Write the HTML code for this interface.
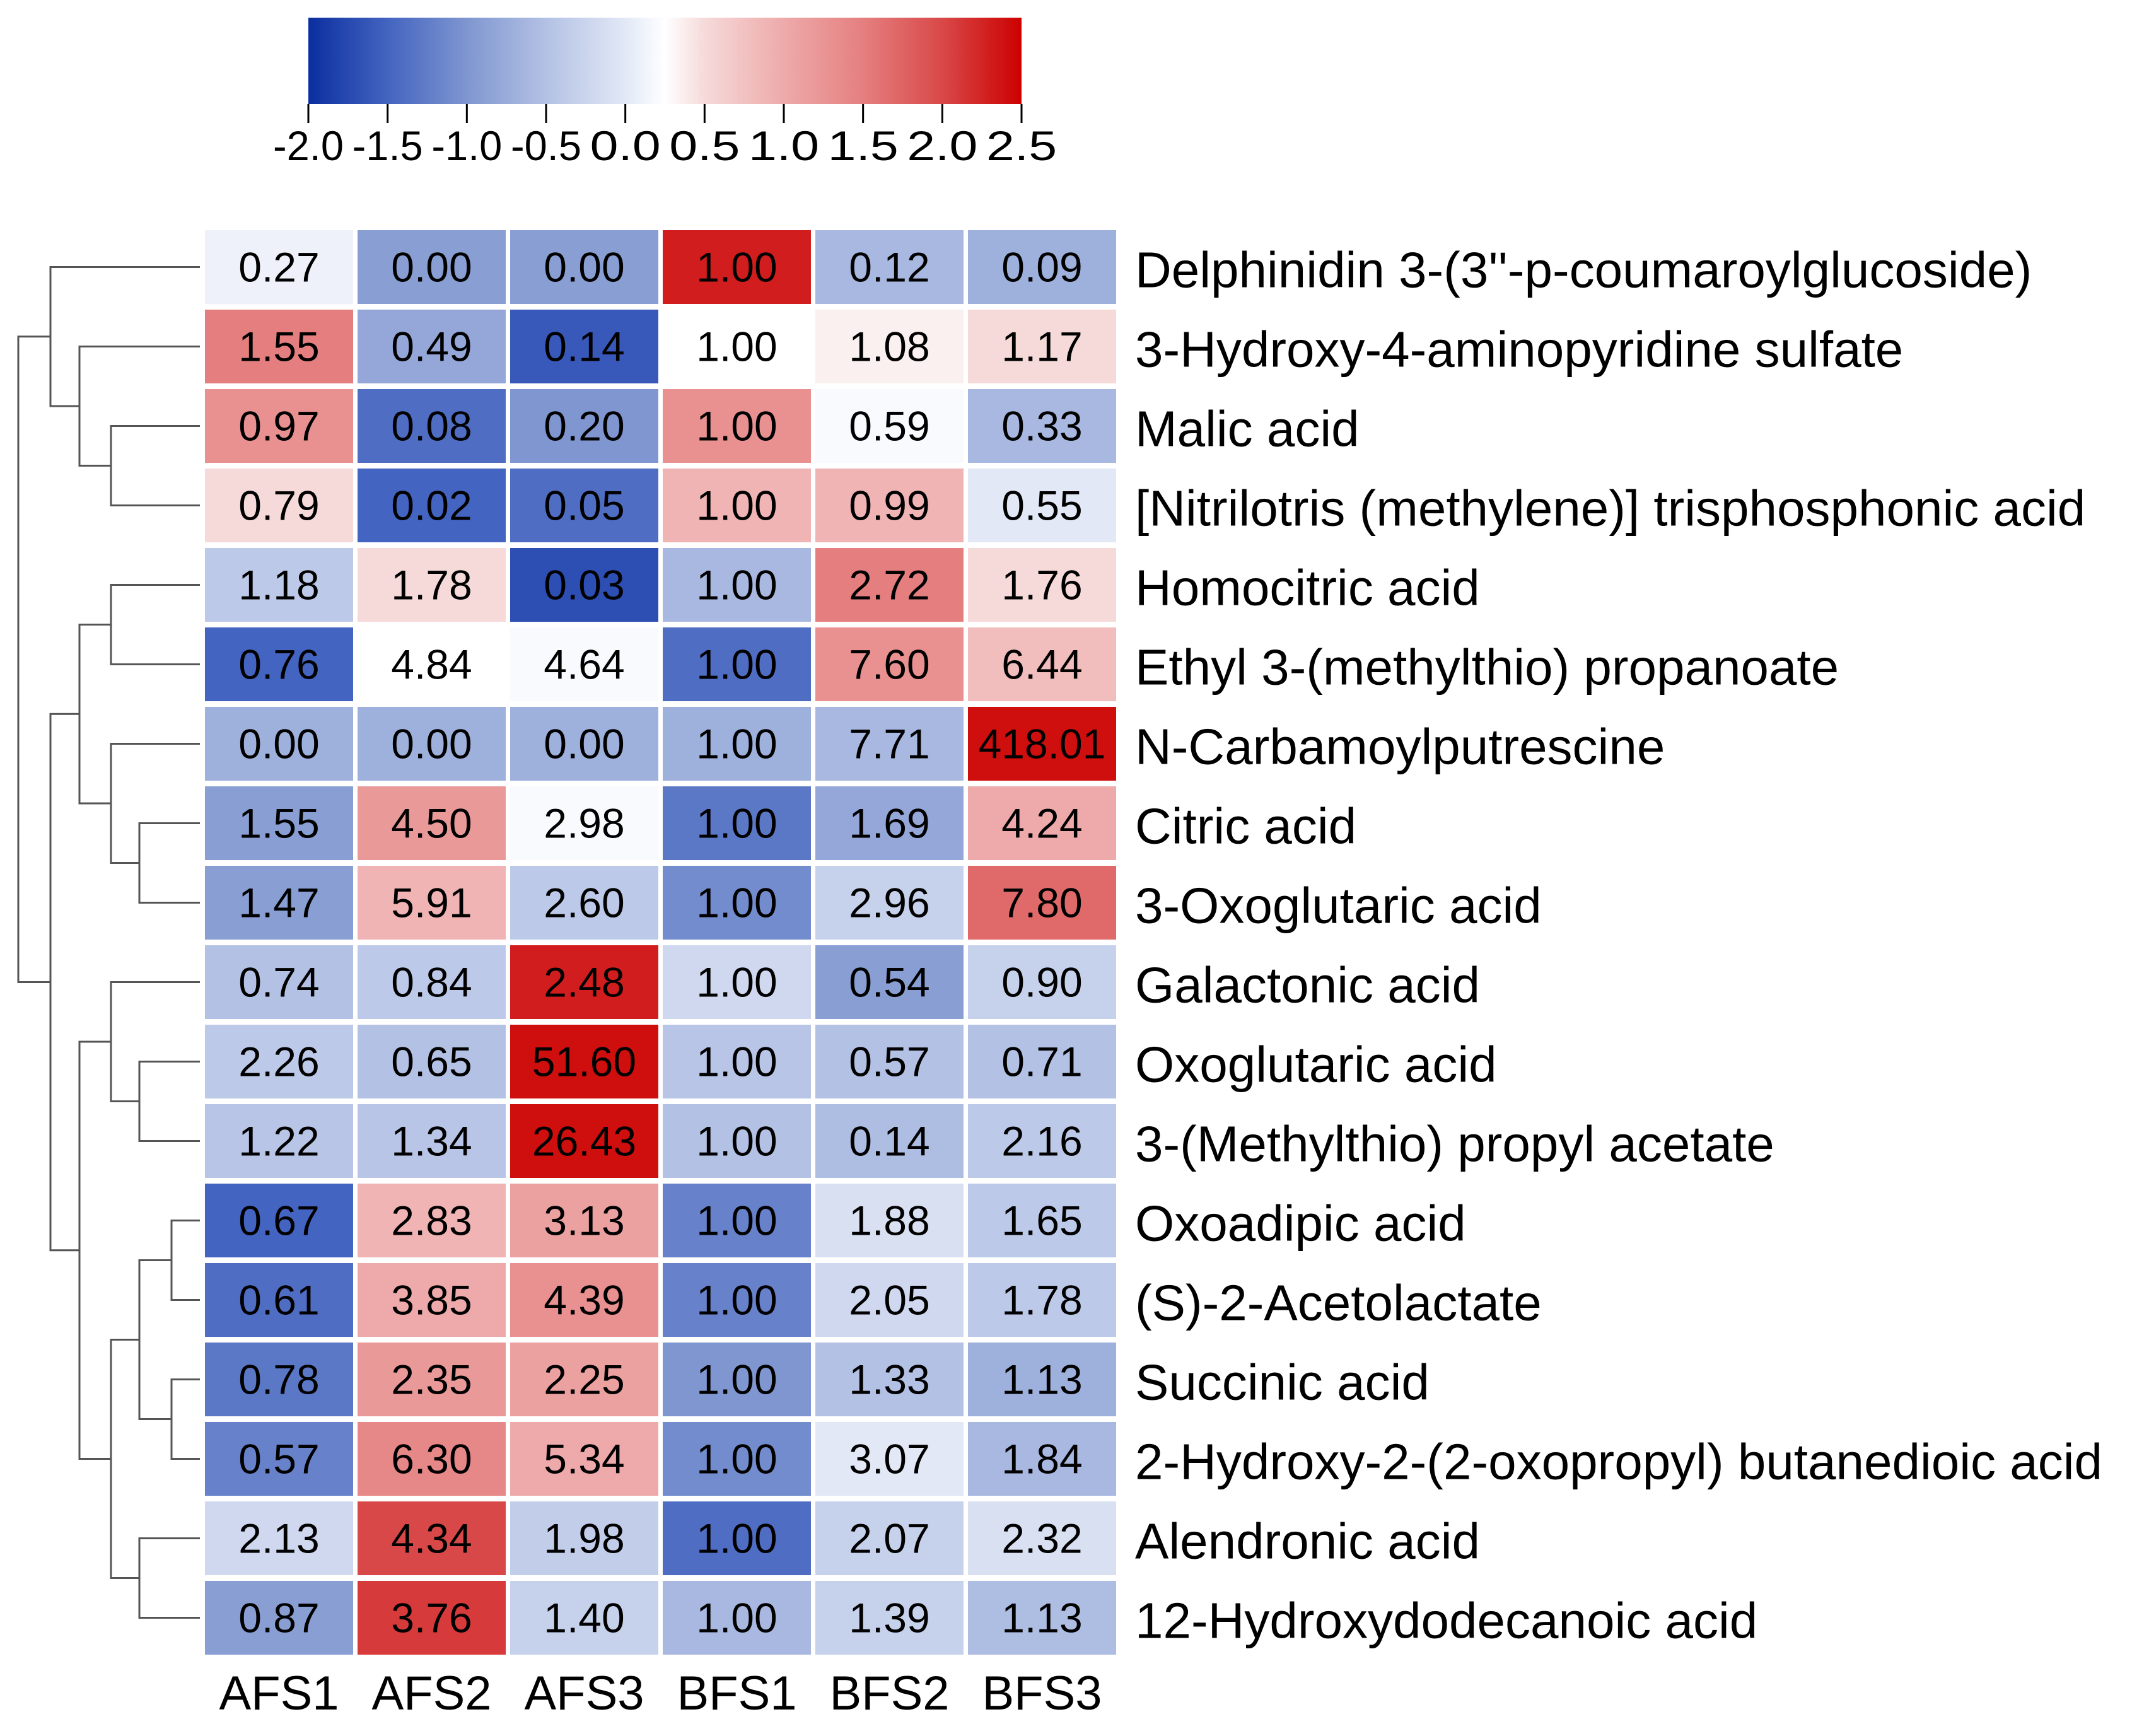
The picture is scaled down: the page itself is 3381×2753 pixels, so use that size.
<!DOCTYPE html>
<html><head><meta charset="utf-8"><style>
html,body{margin:0;padding:0;background:#fff;}
svg{display:block;font-family:"Liberation Sans",Arial,sans-serif;}
</style></head><body>
<svg id="chart" width="3381" height="2753" viewBox="0 0 3381 2753" xmlns="http://www.w3.org/2000/svg">
<defs>
<linearGradient id="cbar" x1="0" x2="1" y1="0" y2="0"></linearGradient>
</defs>
<rect width="3381" height="2753" fill="#fff"/>
<g id="colorbar"></g>
<g id="dendro"></g>
<g id="cells"></g>
<g id="rowlabels"></g>
<g id="collabels"></g>
</svg>
<script>
const columns = ["AFS1","AFS2","AFS3","BFS1","BFS2","BFS3"];
const rows = ["Delphinidin 3-(3''-p-coumaroylglucoside)","3-Hydroxy-4-aminopyridine sulfate","Malic acid","[Nitrilotris (methylene)] trisphosphonic acid","Homocitric acid","Ethyl 3-(methylthio) propanoate","N-Carbamoylputrescine","Citric acid","3-Oxoglutaric acid","Galactonic acid","Oxoglutaric acid","3-(Methylthio) propyl acetate","Oxoadipic acid","(S)-2-Acetolactate","Succinic acid","2-Hydroxy-2-(2-oxopropyl) butanedioic acid","Alendronic acid","12-Hydroxydodecanoic acid"];
const values = [
["0.27","0.00","0.00","1.00","0.12","0.09"],
["1.55","0.49","0.14","1.00","1.08","1.17"],
["0.97","0.08","0.20","1.00","0.59","0.33"],
["0.79","0.02","0.05","1.00","0.99","0.55"],
["1.18","1.78","0.03","1.00","2.72","1.76"],
["0.76","4.84","4.64","1.00","7.60","6.44"],
["0.00","0.00","0.00","1.00","7.71","418.01"],
["1.55","4.50","2.98","1.00","1.69","4.24"],
["1.47","5.91","2.60","1.00","2.96","7.80"],
["0.74","0.84","2.48","1.00","0.54","0.90"],
["2.26","0.65","51.60","1.00","0.57","0.71"],
["1.22","1.34","26.43","1.00","0.14","2.16"],
["0.67","2.83","3.13","1.00","1.88","1.65"],
["0.61","3.85","4.39","1.00","2.05","1.78"],
["0.78","2.35","2.25","1.00","1.33","1.13"],
["0.57","6.30","5.34","1.00","3.07","1.84"],
["2.13","4.34","1.98","1.00","2.07","2.32"],
["0.87","3.76","1.40","1.00","1.39","1.13"]];
const zscores = [
[0.1,-0.9,-0.9,2.3,-0.6,-0.7],
[1.5,-0.8,-1.6,0.25,0.35,0.5],
[1.3,-1.4,-1.0,1.3,0.2,-0.6],
[0.5,-1.5,-1.4,0.9,0.9,0.0],
[-0.4,0.5,-1.7,-0.6,1.5,0.5],
[-1.5,0.25,0.2,-1.4,1.3,0.8],
[-0.7,-0.7,-0.7,-0.7,-0.6,2.4],
[-0.9,1.2,0.2,-1.3,-0.8,1.0],
[-0.9,0.9,-0.4,-1.1,-0.3,1.7],
[-0.5,-0.4,2.3,-0.2,-0.9,-0.3],
[-0.4,-0.5,2.4,-0.45,-0.5,-0.5],
[-0.45,-0.45,2.4,-0.5,-0.55,-0.4],
[-1.5,0.9,1.1,-1.2,-0.1,-0.4],
[-1.4,1.0,1.3,-1.2,-0.2,-0.4],
[-1.3,1.2,1.1,-1.0,-0.5,-0.7],
[-1.2,1.4,1.0,-1.1,0.0,-0.6],
[-0.2,2.0,-0.35,-1.4,-0.3,-0.1],
[-0.9,2.1,-0.3,-0.6,-0.3,-0.55]];
const scaleTicks = ["-2.0","-1.5","-1.0","-0.5","0.0","0.5","1.0","1.5","2.0","2.5"];
// dendrogram merges: [left, right, level]; leaves are row indices, internal nodes "n#"
const merges = [
[2,3,3],["n0",1,2],[0,"n1",1],
[4,5,3],[7,8,4],[6,"n4",3],["n3","n5",2],
[10,11,4],[9,"n7",3],[12,13,5],[14,15,5],["n9","n10",4],[16,17,4],["n11","n12",3],["n8","n13",2],
["n6","n14",1],["n2","n15",0]];
const levelX = [29,80,126,176,221,272];

const NS="http://www.w3.org/2000/svg";
function mk(tag,attrs,parent){const e=document.createElementNS(NS,tag);for(const k in attrs)e.setAttribute(k,attrs[k]);parent.appendChild(e);return e;}
const stops=[[-2,[11,46,160]],[-1.5,[67,100,192]],[-1,[127,150,208]],[-0.5,[179,193,228]],[0,[226,232,246]],[0.25,[255,255,255]],[0.5,[246,218,218]],[1,[238,170,170]],[1.5,[229,127,127]],[2,[217,72,72]],[2.5,[204,0,0]]];
function color(v){v=Math.max(-2,Math.min(2.5,v));for(let i=1;i<stops.length;i++){if(v<=stops[i][0]){const a=stops[i-1],b=stops[i];const t=(v-a[0])/(b[0]-a[0]);const c=a[1].map((x,j)=>Math.round(x+(b[1][j]-x)*t));return `rgb(${c.join(',')})`;}}return 'rgb(204,0,0)';}

// colorbar
const CB={x0:489,x1:1620,y0:28,y1:165,min:-2,max:2.5};
const grad=document.getElementById('cbar');
stops.forEach(s=>{mk('stop',{offset:((s[0]-CB.min)/(CB.max-CB.min)),'stop-color':color(s[0])},grad);});
const cb=document.getElementById('colorbar');
const cbRect=mk('rect',{x:CB.x0,y:CB.y0,width:CB.x1-CB.x0,height:CB.y1-CB.y0,fill:'url(#cbar)'},cb);


function cbX(v){return CB.x0+(v-CB.min)/(CB.max-CB.min)*(CB.x1-CB.x0);}
scaleTicks.forEach(t=>{const x=cbX(parseFloat(t));
 mk('line',{x1:x,x2:x,y1:CB.y1,y2:CB.y1+30,stroke:'#000','stroke-width':3},cb);
 const tx=mk('text',{x:x,y:254,'font-size':66,'text-anchor':'middle',fill:'#000',textLength:112,lengthAdjust:'spacingAndGlyphs'},cb);
 tx.textContent=t;
 
 });

// heatmap
const HX0=325,CW=242,CWW=235,HY0=365,RH=126,RHH=117;
function colX(i){return HX0+i*CW;}
function rowY(i){return HY0+i*RH;}
const cells=document.getElementById('cells');
values.forEach((row,r)=>row.forEach((v,c)=>{
 const rc=mk('rect',{x:colX(c),y:rowY(r),width:CWW,height:RHH,fill:color(zscores[r][c])},cells);
 
 
 const t=mk('text',{x:colX(c)+CWW/2,y:rowY(r)+RHH/2+23,'font-size':66,'text-anchor':'middle',fill:'#000'},cells);
 t.textContent=v;
 
 
}));
const rl=document.getElementById('rowlabels');
rows.forEach((n,r)=>{const t=mk('text',{x:1800,y:rowY(r)+RHH/2+32,'font-size':80,fill:'#000'},rl);t.textContent=n;
 
 });
const cl=document.getElementById('collabels');
columns.forEach((n,c)=>{const t=mk('text',{x:colX(c)+CWW/2,y:2711,'font-size':76,'text-anchor':'middle',fill:'#000'},cl);t.textContent=n;
 
 });

// dendrogram
const dg=document.getElementById('dendro');
const nodeInfo={};
function info(k){if(typeof k==='number')return {y:rowY(k)+RHH/2,x:317};return nodeInfo[k];}
merges.forEach((m,i)=>{const a=info(m[0]),b=info(m[1]);const x=levelX[m[2]];
 const p=mk('path',{d:`M${a.x},${a.y}H${x}V${b.y}H${b.x}`,fill:'none',stroke:'#555','stroke-width':3},dg);
 
 
 nodeInfo['n'+i]={x:x,y:(a.y+b.y)/2};});
</script>
</body></html>
